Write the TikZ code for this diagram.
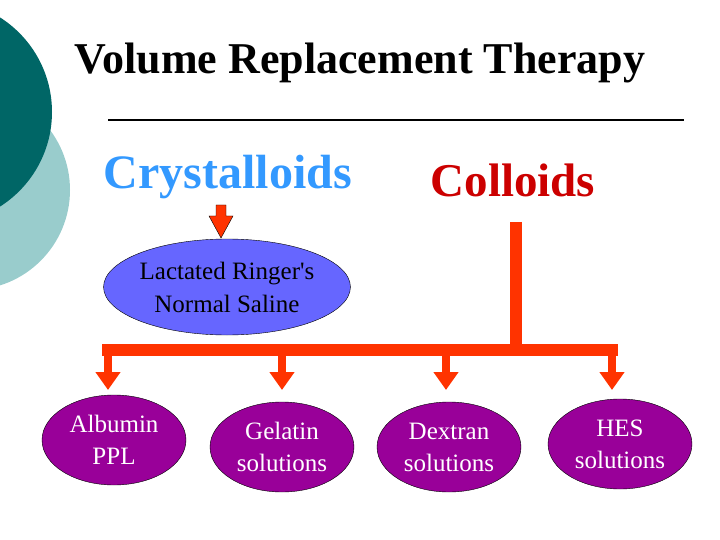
\documentclass[tikz,border=0pt]{standalone}
\usepackage{fontspec}
\setmainfont{Liberation Serif}
\usetikzlibrary{shapes.geometric,arrows.meta}
\definecolor{dteal}{HTML}{006666}
\definecolor{lteal}{HTML}{99CCCC}
\definecolor{cblue}{HTML}{3399FF}
\definecolor{cred}{HTML}{CC0000}
\definecolor{orng}{HTML}{FF3300}
\definecolor{eblue}{HTML}{6666FF}
\definecolor{purp}{HTML}{990099}
\begin{document}
\begin{tikzpicture}[x=1pt,y=-1pt,
  pur/.style={ellipse,draw=black,fill=purp,minimum width=144pt,minimum height=90pt,text=white,font=\fontsize{25}{32}\selectfont,align=center,inner sep=0pt},
  bar/.style={orng,line width=12pt},
  drop/.style={orng,line width=8pt,-{Triangle[width=24pt,length=18pt]}}]
\useasboundingbox (0,0) rectangle (720,540);
\fill[lteal] (-30,190) circle (100);
\fill[dteal] (-60,112) circle (112);
\node (title) at (360,63) {\fontsize{44}{50}\selectfont\bfseries Volume Replacement Therapy};
\draw[line width=2pt] (108,120) coordinate (l1) -- (684,120) coordinate (l2);
\node[text=cblue] (cry) at (228,177) {\fontsize{48}{54}\selectfont\bfseries Crystalloids};
\node[text=cred] (col) at (513,180) {\fontsize{47}{54}\selectfont\bfseries Colloids};
\node[ellipse,draw=black,fill=eblue,minimum width=244pt,minimum height=96pt,align=center,inner sep=0pt,font=\fontsize{25}{33}\selectfont] (lr) at (227,287) {Lactated Ringer\textquotesingle s\\Normal Saline};
\draw[fill=orng,draw=black] (216,205) -- (226,205) -- (226,216) -- (233,216) -- (221,238) -- (209,216) -- (216,216) -- cycle;
\node[pur] (a) at (114,440) {Albumin\\PPL};
\node[pur] (g) at (282,447) {Gelatin\\solutions};
\node[pur] (d) at (449,447) {Dextran\\solutions};
\node[pur] (h) at (620,444) {HES\\solutions};
\coordinate (top) at (516,222);
\coordinate (j) at (516,350);
\draw[bar] (top) -- (j);
\draw[bar] (102,350) -- (618,350);
\draw[drop] (108,350) -- (108,390);
\draw[drop] (282,350) -- (282,390);
\draw[drop] (446,350) -- (446,390);
\draw[drop] (612,350) -- (612,390);
\end{tikzpicture}
\end{document}
